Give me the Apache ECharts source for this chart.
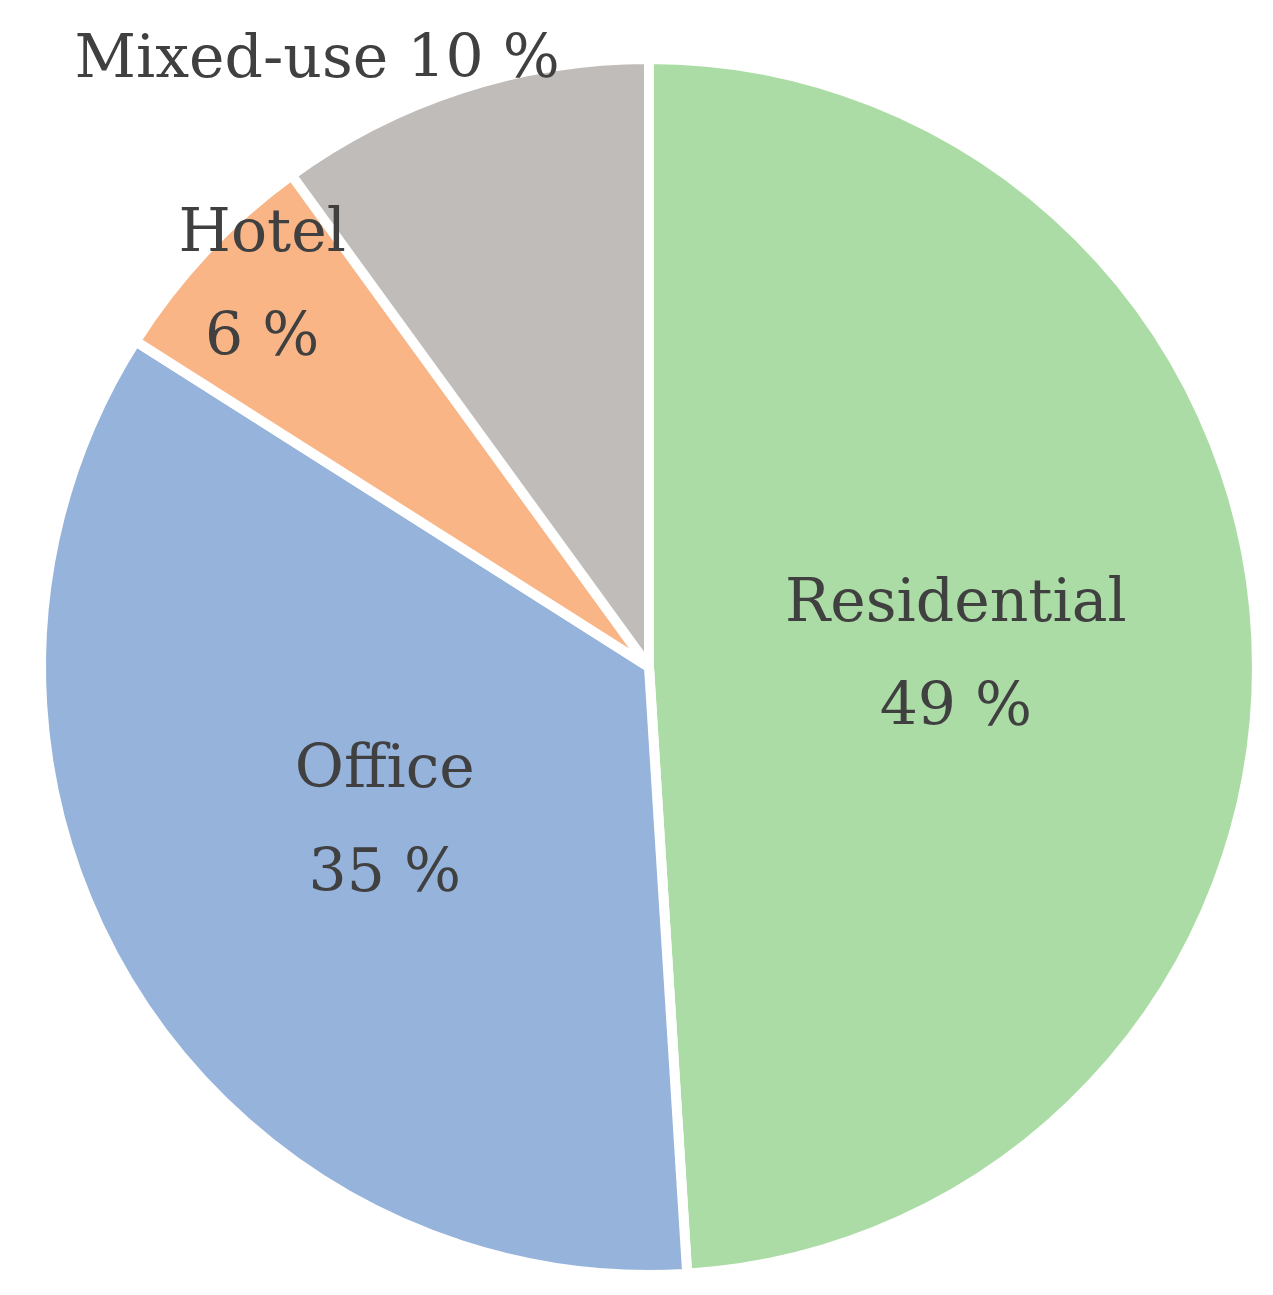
<!DOCTYPE html>
<html>
<head>
<meta charset="utf-8">
<script src="https://cdn.jsdelivr.net/npm/echarts@6/dist/echarts.min.js"></script>
<style>html,body{margin:0;padding:0;background:#fff}#div-chart{width:1273px;height:1295px}</style>
</head>
<body>
<div id="div-chart"></div>
<script>
var categories = ['Residential', 'Office', 'Hotel', 'Mixed-use'];
var shares = [49, 35, 6, 10];
var colors = ['#ACDCA5', '#96B3DB', '#F9B586', '#C0BCB9'];
// label shifts for the two small slices
var labelOffsets = [[0, 0], [0, 0], [-163, -169], [-237, -314]];
var labelFormats = ['{b}\n{c} %', '{b}\n{c} %', '{b}\n{c} %', '{b} {c} %'];

var myChart = echarts.init(document.getElementById('div-chart'));

var data = categories.map(function (name, i) {
    return {
        name: name,
        value: shares[i],
        itemStyle: {color: colors[i]},
        label: {offset: labelOffsets[i], formatter: labelFormats[i]}
    };
});

option = {
    animation: false,
    series: [
        {
            type: 'pie',
            center: ['649px', '667px'],
            radius: 608,
            startAngle: 90,
            clockwise: true,
            itemStyle: {borderColor: '#fff', borderWidth: 10},
            label: {
                show: true,
                position: 'inside',
                color: '#404040',
                fontFamily: 'DejaVu Serif',
                fontSize: 60,
                lineHeight: 104
            },
            labelLine: {show: false},
            emphasis: {disabled: true},
            data: data
        }
    ]
};

myChart.setOption(option);
</script>
</body>
</html>
